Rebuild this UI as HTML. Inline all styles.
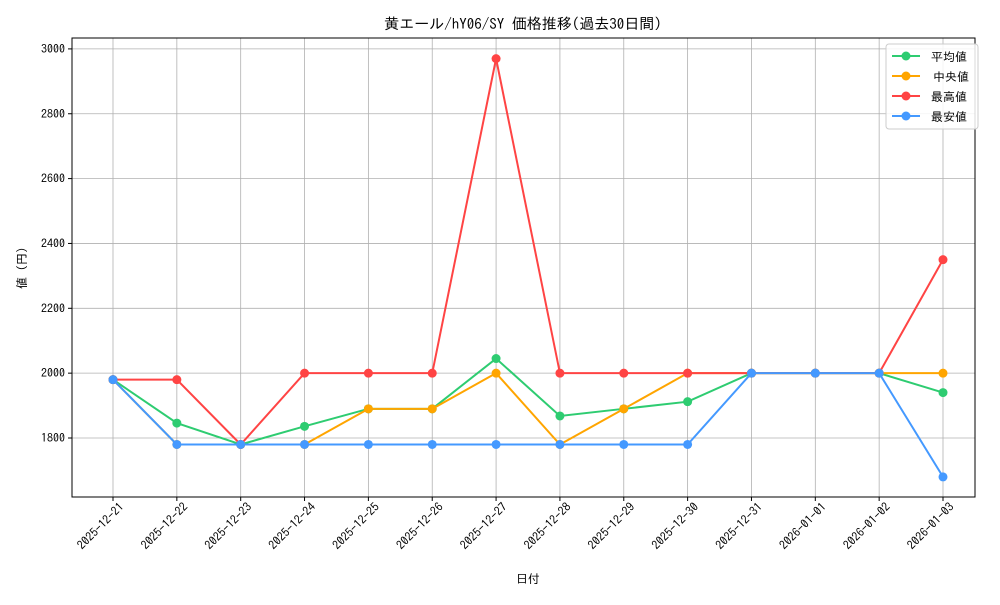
<!DOCTYPE html>
<html><head><meta charset="utf-8"><style>
html,body{margin:0;padding:0;background:#fff}
svg text{font-family:"IPAGothic","Noto Sans CJK JP",sans-serif;fill:#000}
</style></head><body>
<svg id="s" width="1000" height="600" xmlns="http://www.w3.org/2000/svg"></svg>
<script>
const s=document.getElementById('s');
const L=72,R=975,T=38,B=497;
const X=i=>113+i*(830/13);
const Y=v=>438-(v-1800)*(64.85/200);
let h='<rect width="1000" height="600" fill="#fff"/>';
const dates=["2025-12-21","2025-12-22","2025-12-23","2025-12-24","2025-12-25","2025-12-26","2025-12-27","2025-12-28","2025-12-29","2025-12-30","2025-12-31","2026-01-01","2026-01-02","2026-01-03"];
dates.forEach((d,i)=>{const x=X(i);h+=`<line x1="${x}" y1="${T}" x2="${x}" y2="${B}" stroke="#b0b0b0" stroke-width="0.8"/>`;
h+=`<line x1="${x}" y1="${B}" x2="${x}" y2="${B+4}" stroke="#000"/>`;
h+=`<text transform="translate(${x+6},${B+5}) rotate(-45)" text-anchor="end" dominant-baseline="hanging" font-size="12">${d}</text>`;});
[1800,2000,2200,2400,2600,2800,3000].forEach(v=>{const y=Y(v);h+=`<line x1="${L}" y1="${y}" x2="${R}" y2="${y}" stroke="#b0b0b0" stroke-width="0.8"/>`;
h+=`<line x1="${L-4}" y1="${y}" x2="${L}" y2="${y}" stroke="#000"/>`;
h+=`<text x="${L-7}" y="${y+4}" text-anchor="end" font-size="12">${v}</text>`;});
const ser=[
["#2ecc71",[1980,1846,1780,1836,1890,1890,2045,1868,1890,1912,2000,2000,2000,1940]],
["#ffa500",[1980,1780,1780,1780,1890,1890,2000,1780,1890,2000,2000,2000,2000,2000]],
["#ff4444",[1980,1980,1780,2000,2000,2000,2970,2000,2000,2000,2000,2000,2000,2350]],
["#4499ff",[1980,1780,1780,1780,1780,1780,1780,1780,1780,1780,2000,2000,2000,1680]]];
ser.forEach(([c,d])=>{h+=`<polyline fill="none" stroke="${c}" stroke-width="2" points="${d.map((v,i)=>X(i)+','+Y(v)).join(' ')}"/>`;
d.forEach((v,i)=>h+=`<circle cx="${X(i)}" cy="${Y(v)}" r="4.5" fill="${c}"/>`);});
h+=`<rect x="${L}" y="${T}" width="${R-L}" height="${B-T}" fill="none" stroke="#000" stroke-width="1"/>`;
h+=`<text x="523" y="29" text-anchor="middle" font-size="15">黄エール/hY06/SY 価格推移(過去30日間)</text>`;
h+=`<text x="528" y="583" text-anchor="middle" font-size="12">日付</text>`;
h+=`<text transform="translate(26,268) rotate(-90)" text-anchor="middle" font-size="12">値 (円)</text>`;
h+=`<rect x="886" y="44" width="92" height="85" rx="3" fill="#fff" fill-opacity="0.85" stroke="#ccc"/>`;
const names=["平均値","中央値","最高値","最安値"];
ser.forEach(([c],i)=>{const y=56+i*20;h+=`<line x1="892" y1="${y}" x2="920" y2="${y}" stroke="${c}" stroke-width="2"/><circle cx="906" cy="${y}" r="4.5" fill="${c}"/>`;
h+=`<text x="${i==1?933:931}" y="${y+5}" font-size="12">${names[i]}</text>`;});
s.innerHTML=h;
</script>
</body></html>
